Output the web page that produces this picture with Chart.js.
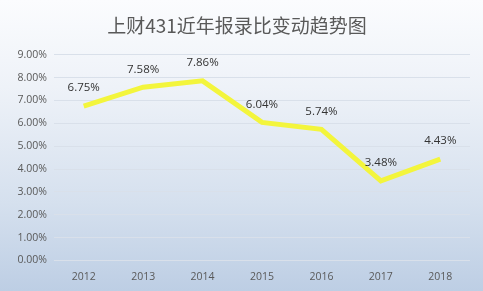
<!DOCTYPE html>
<html>
<head>
<meta charset="utf-8">
<script src="https://cdn.jsdelivr.net/npm/chart.js@4"></script>
<style>
  html, body { margin: 0; padding: 0; background: #fff; }
  #wrap { width: 483px; height: 291px; position: relative;
          background: linear-gradient(to bottom, #fbfcfe 0%, #eef2f8 30%, #d5e0ee 70%, #bdcee4 100%); }
</style>
</head>
<body>
<div id="wrap"><canvas id="myChart" width="483" height="291"></canvas></div>
<script>
// data
var years = ['2012', '2013', '2014', '2015', '2016', '2017', '2018'];
var ratios = [6.75, 7.58, 7.86, 6.04, 5.74, 3.48, 4.43];
var chartTitle = '上财431近年报录比变动趋势图';

// simple label plugin, writes each value above its point
var valueLabels = {
    id: 'valueLabels',
    afterDatasetsDraw: function(chart) {
        var ctx = chart.ctx;
        var meta = chart.getDatasetMeta(0);
        ctx.save();
        ctx.font = '11.5px "Open Sans", "Liberation Sans", sans-serif';
        ctx.fillStyle = '#333333';
        ctx.textAlign = 'center';
        ctx.textBaseline = 'middle';
        meta.data.forEach(function(pt, i) {
            ctx.fillText(ratios[i].toFixed(2) + '%', pt.x, pt.y - 18);
        });
        ctx.restore();
    }
};

var myChart = new Chart('myChart', {
    type: 'line',
    data: {
        labels: years,
        datasets: [{
            data: ratios,
            borderColor: '#f3f53c',
            borderWidth: 5,
            pointRadius: 0,
            tension: 0,
            fill: false
        }]
    },
    options: {
        responsive: false,
        animation: false,
        layout: { padding: { left: 4, right: 13, top: 0, bottom: 6 } },
        plugins: {
            legend: { display: false },
            tooltip: { enabled: false },
            title: {
                display: true,
                text: chartTitle,
                color: '#595959',
                font: { family: '"Noto Sans CJK SC", sans-serif', size: 19, weight: 'normal' },
                padding: { top: 14, bottom: 18 }
            }
        },
        scales: {
            x: {
                offset: true,
                grid: { display: false },
                border: { display: false },
                ticks: { color: '#595959', font: { family: '"Open Sans", "Liberation Sans", sans-serif', size: 10.5 }, padding: 2 }
            },
            y: {
                min: 0,
                max: 9,
                grid: { color: '#d9e0ea', lineWidth: 1, drawTicks: false },
                border: { display: false },
                afterFit: function(scale) { scale.width = 50; },
                ticks: {
                    stepSize: 1,
                    color: '#595959',
                    padding: 7,
                    font: { family: '"Open Sans", "Liberation Sans", sans-serif', size: 10.5 },
                    callback: function(v) { return v.toFixed(2) + '%'; }
                }
            }
        }
    },
    plugins: [valueLabels]
});
</script>
</body>
</html>
